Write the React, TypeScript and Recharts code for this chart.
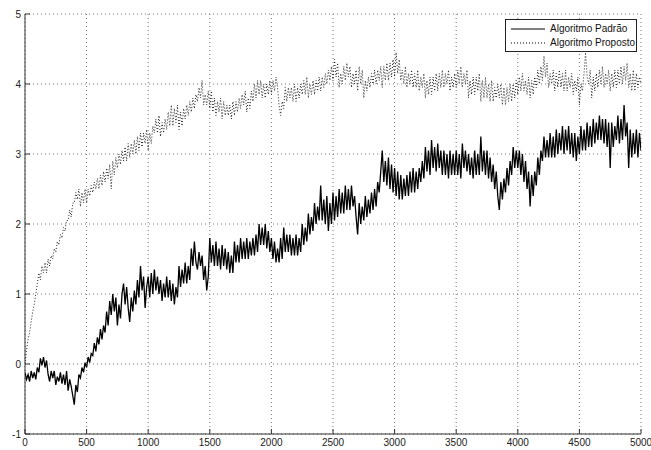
import React from "react";
import { LineChart, Line, XAxis, YAxis, CartesianGrid, Legend } from "recharts";

const STEP = 12.5;
const xTicks = [0, 500, 1000, 1500, 2000, 2500, 3000, 3500, 4000, 4500, 5000];
const yTicks = [-1, 0, 1, 2, 3, 4, 5];
const seriesNames = ["Algoritmo Padrão", "Algoritmo Proposto"];

const padrao = [
  -0.12, -0.22, -0.15, -0.25, -0.1, -0.2, -0.12, -0.22,
  -0.05, -0.12, 0.08, -0.02, 0.1, -0.05, 0.05, -0.15,
  -0.25, -0.1, -0.2, -0.1, -0.3, -0.18, -0.25, -0.12,
  -0.28, -0.15, -0.3, -0.1, -0.38, -0.22, -0.32, -0.45,
  -0.58, -0.3, -0.4, -0.15, -0.2, -0.05, -0.12, 0.02,
  -0.05, 0.1, 0.02, 0.15, 0.12, 0.3, 0.18, 0.38,
  0.28, 0.5, 0.35, 0.55, 0.45, 0.75, 0.55, 0.9,
  0.7, 1.0, 0.75, 0.95, 0.55, 0.85, 0.65, 1.0,
  1.15, 0.85, 1.1, 0.8, 0.6, 0.95, 0.75, 1.05,
  0.85, 1.2, 0.95, 1.4, 1.05, 1.25, 0.8, 1.1,
  1.25, 0.95, 1.3, 1.0, 1.35, 1.05, 1.25, 1.0,
  1.2, 0.9, 1.15, 0.95, 1.25, 0.95, 1.2, 0.9,
  1.15, 0.85, 1.1, 0.95, 1.4, 1.1, 1.35, 1.15,
  1.45, 1.15, 1.4, 1.2, 1.65, 1.4, 1.75, 1.45,
  1.35, 1.6, 1.4, 1.55, 1.2, 1.4, 1.05, 1.25,
  1.8, 1.45, 1.7, 1.4, 1.75, 1.4, 1.65, 1.35,
  1.7, 1.4, 1.65, 1.35, 1.6, 1.3, 1.55, 1.3,
  1.75, 1.45, 1.7, 1.45, 1.8, 1.5, 1.75, 1.5,
  1.8, 1.5, 1.75, 1.55, 1.8, 1.55, 1.85, 1.6,
  2.0, 1.7, 1.95, 1.7, 2.0, 1.65, 1.9, 1.6,
  1.8, 1.5, 1.75, 1.45, 1.65, 1.45, 1.8, 1.5,
  1.95, 1.6, 1.85, 1.6, 1.85, 1.55, 1.8, 1.55,
  1.85, 1.55, 1.8, 1.6, 2.0, 1.7, 1.95, 1.75,
  2.15, 1.85, 2.1, 1.9, 2.3, 2.0, 2.25, 2.05,
  2.55, 2.05, 2.35, 2.0, 2.4, 1.9, 2.3, 2.0,
  2.45, 2.05, 2.4, 2.1, 2.5, 2.15, 2.45, 2.15,
  2.55, 2.2, 2.5, 2.2, 2.55, 2.25, 2.4, 2.1,
  1.85, 2.3, 2.0, 2.25, 2.05, 2.4, 2.1, 2.35,
  2.15, 2.45, 2.2, 2.5, 2.25, 2.6, 2.45, 2.75,
  3.05, 2.6, 2.9, 2.55, 2.95, 2.5, 2.85, 2.45,
  2.8, 2.4, 2.75, 2.35, 2.7, 2.35, 2.65, 2.4,
  2.7, 2.4, 2.75, 2.45, 2.8, 2.45, 2.75, 2.5,
  2.8, 2.6, 2.9, 2.65, 3.1, 2.75, 3.05, 2.7,
  3.2, 2.8, 3.1, 2.75, 3.15, 2.8, 3.05, 2.7,
  3.05, 2.7, 3.0, 2.65, 3.05, 2.7, 3.0, 2.7,
  3.05, 2.7, 3.0, 2.65, 3.15, 2.8, 3.05, 2.75,
  3.0, 2.7, 2.95, 2.65, 3.05, 2.7, 3.0, 2.7,
  3.25, 2.75, 3.05, 2.7, 3.05, 2.65, 2.95, 2.6,
  2.85, 2.5, 2.75, 2.4, 2.2, 2.6, 2.35, 2.65,
  2.45, 2.8, 2.55, 2.9, 2.7, 3.1, 2.8, 3.05,
  2.8, 3.05, 2.7, 3.0, 2.6, 2.9, 2.5, 2.75,
  2.25, 2.7, 2.4, 2.75, 2.55, 2.95, 2.7, 3.05,
  2.9, 3.25, 2.95, 3.2, 2.95, 3.3, 2.95, 3.25,
  2.95, 3.35, 3.0, 3.3, 3.05, 3.4, 3.0, 3.35,
  3.05, 3.4, 3.0, 3.3, 2.95, 3.3, 2.9, 3.25,
  3.0, 3.4, 3.05, 3.35, 3.05, 3.45, 3.1, 3.4,
  3.1, 3.5, 3.15, 3.45, 3.2, 3.55, 3.2, 3.5,
  3.15, 3.5, 3.1, 3.45, 2.8, 3.45, 3.1, 3.4,
  3.2, 3.55, 3.15, 3.5, 3.2, 3.7, 3.25, 3.45,
  2.8, 3.35, 2.95, 3.3, 3.0, 3.35, 2.95, 3.3,
  3.05,
];

const proposto = [
  0.0, 0.2, 0.35, 0.45, 0.6, 0.75, 0.85, 1.0,
  1.15, 1.3, 1.2, 1.4, 1.3, 1.45, 1.3, 1.5,
  1.4, 1.55, 1.5, 1.65, 1.6, 1.75, 1.7, 1.85,
  1.8, 1.95, 1.9, 2.05, 2.05, 2.2, 2.1, 2.3,
  2.3, 2.45, 2.35, 2.5, 2.25, 2.45, 2.3, 2.5,
  2.3, 2.5, 2.4, 2.55, 2.45, 2.6, 2.5, 2.65,
  2.5, 2.7, 2.55, 2.75, 2.6, 2.8, 2.65, 2.85,
  2.5, 2.9, 2.7, 2.95, 2.8, 3.0, 2.85, 3.05,
  2.9, 3.1, 2.9, 3.15, 2.95, 3.15, 3.0, 3.2,
  3.0, 3.25, 3.05, 3.3, 3.1, 3.3, 3.15, 3.35,
  3.05, 3.3, 3.15, 3.4, 3.3, 3.5, 3.3, 3.55,
  3.25, 3.45, 3.3, 3.5, 3.35, 3.6, 3.4, 3.7,
  3.4, 3.65, 3.45, 3.7, 3.35, 3.6, 3.4, 3.65,
  3.5, 3.7, 3.55, 3.75, 3.6, 3.8, 3.65, 3.85,
  3.75, 3.95, 3.8, 4.05, 3.7, 3.85, 3.7, 3.9,
  3.65, 3.9, 3.6, 3.8, 3.55, 3.75, 3.6, 3.8,
  3.5, 3.75, 3.55, 3.7, 3.55, 3.7, 3.5, 3.75,
  3.55, 3.75, 3.6, 3.8, 3.65, 3.85, 3.7, 3.9,
  3.6, 3.8, 3.65, 3.9, 3.75, 4.0, 3.8, 4.05,
  3.85, 4.05, 3.8, 4.0, 3.8, 4.0, 3.85, 4.05,
  3.85, 4.05, 3.9, 4.1, 3.95, 3.7, 3.55, 3.75,
  3.65, 3.95, 3.75, 3.95, 3.8, 3.95, 3.75, 4.0,
  3.75, 3.95, 3.8, 4.0, 3.85, 4.05, 3.85, 4.1,
  3.8, 4.0, 3.85, 4.05, 3.85, 4.05, 3.9, 4.1,
  3.9, 4.1, 3.95, 4.15, 4.0, 4.2, 4.05, 4.25,
  4.05, 4.35, 4.1, 4.3, 3.95, 4.15, 4.0, 4.25,
  4.05, 4.3, 4.1, 4.25, 3.95, 4.15, 4.0, 4.2,
  3.9, 4.25, 4.0, 4.2, 3.8, 4.05, 3.9, 4.1,
  3.95, 4.15, 4.0, 4.2, 4.0, 4.2, 4.05, 4.25,
  3.95, 4.25, 4.05, 4.3, 4.05, 4.3, 4.1, 4.35,
  4.1, 4.45, 4.15, 4.35, 4.05, 4.2, 4.0, 4.25,
  3.95, 4.15, 4.0, 4.2, 3.95, 4.15, 3.95, 4.2,
  3.9, 4.1, 3.95, 4.15, 3.8, 4.05, 3.85, 4.1,
  3.85, 4.1, 3.9, 4.15, 3.9, 4.15, 3.95, 4.2,
  3.95, 4.15, 4.0, 4.2, 3.9, 4.1, 3.95, 4.15,
  3.95, 4.2, 4.0, 4.25, 3.95, 4.15, 4.0, 4.2,
  3.8, 4.05, 3.85, 4.1, 3.85, 4.1, 3.9, 4.15,
  3.75, 4.05, 3.8, 4.1, 3.8, 4.0, 3.75, 4.05,
  3.75, 3.95, 3.8, 4.0, 3.8, 4.0, 3.7, 3.95,
  3.7, 3.95, 3.75, 4.0, 3.75, 4.0, 3.8, 4.05,
  3.85, 4.1, 3.9, 4.15, 3.9, 4.05, 3.85, 4.1,
  3.8, 4.05, 3.85, 4.1, 3.95, 4.2, 4.0, 4.25,
  4.05, 4.4, 4.1, 4.3, 3.95, 4.15, 4.0, 4.2,
  3.9, 4.15, 3.95, 4.2, 3.95, 4.15, 3.9, 4.2,
  3.9, 4.1, 3.95, 4.15, 3.85, 4.05, 3.9, 4.1,
  3.7, 4.0, 3.9, 4.15, 4.45, 4.1, 4.0, 4.2,
  3.8, 4.1, 3.9, 4.15, 3.95, 4.2, 4.0, 4.25,
  3.95, 4.15, 4.0, 4.2, 3.9, 4.15, 3.95, 4.2,
  3.95, 4.2, 4.0, 4.25, 4.0, 4.25, 4.05, 4.3,
  3.95, 4.15, 3.9, 4.2, 3.9, 4.15, 3.95, 4.1,
  4.0,
];

const data = padrao.map((v, i) => ({ x: i * STEP, padrao: v, proposto: proposto[i] }));

const FONT = "'Liberation Sans', Arial, sans-serif";
const AXIS = "#333";

const LegendBox = () => (
  <div
    style={{
      position: "absolute",
      left: 505,
      top: 19,
      width: 130,
      height: 31,
      border: "1px solid #222",
      background: "#fff",
      fontFamily: FONT,
      fontSize: 10,
      color: "#111",
      boxSizing: "content-box",
    }}
  >
    {seriesNames.map((name, i) => (
      <div key={name} style={{ position: "absolute", left: 4, top: 3 + i * 14, height: 12, display: "flex", alignItems: "center" }}>
        <svg width={36} height={12} style={{ display: "block" }}>
          <line x1={1} y1={6} x2={35} y2={6} stroke="#000" strokeWidth={1} strokeDasharray={i === 1 ? "1 2" : undefined} />
        </svg>
        <span style={{ marginLeft: 4, whiteSpace: "nowrap", lineHeight: "12px" }}>{name}</span>
      </div>
    ))}
  </div>
);

export default function App() {
  return (
    <div style={{ position: "absolute", left: 0, top: 0, width: 651, height: 450, background: "#fff" }}>
      <LineChart width={651} height={450} data={data} margin={{ top: 14, right: 10, bottom: 0, left: 0 }}>
        <CartesianGrid stroke="#777" strokeDasharray="1 3" horizontalValues={yTicks} verticalValues={xTicks} />
        <XAxis
          dataKey="x"
          type="number"
          domain={[0, 5000]}
          ticks={xTicks}
          height={16}
          interval={0}
          tickSize={-5}
          tickMargin={10}
          stroke={AXIS}
          tick={{ fill: "#222", fontSize: 10, fontFamily: FONT }}
          allowDataOverflow
        />
        <XAxis
          xAxisId="top"
          orientation="top"
          dataKey="x"
          type="number"
          domain={[0, 5000]}
          ticks={xTicks}
          height={0}
          interval={0}
          tickSize={-5}
          tickFormatter={() => ""}
          stroke={AXIS}
        />
        <YAxis
          type="number"
          domain={[-1, 5]}
          ticks={yTicks}
          width={25}
          interval={0}
          tickSize={-5}
          tickMargin={9}
          stroke={AXIS}
          tick={{ fill: "#222", fontSize: 10, fontFamily: FONT }}
          allowDataOverflow
        />
        <YAxis
          yAxisId="right"
          orientation="right"
          type="number"
          domain={[-1, 5]}
          ticks={yTicks}
          width={0}
          interval={0}
          tickSize={-5}
          tickFormatter={() => ""}
          stroke={AXIS}
        />
        <Line
          dataKey="proposto"
          name={seriesNames[1]}
          type="linear"
          stroke="#222"
          strokeWidth={1}
          strokeDasharray="1 2"
          dot={false}
          isAnimationActive={false}
        />
        <Line
          dataKey="padrao"
          name={seriesNames[0]}
          type="linear"
          stroke="#000"
          strokeWidth={1.3}
          dot={false}
          isAnimationActive={false}
        />
        <Legend content={() => null} />
      </LineChart>
      <LegendBox />
    </div>
  );
}
